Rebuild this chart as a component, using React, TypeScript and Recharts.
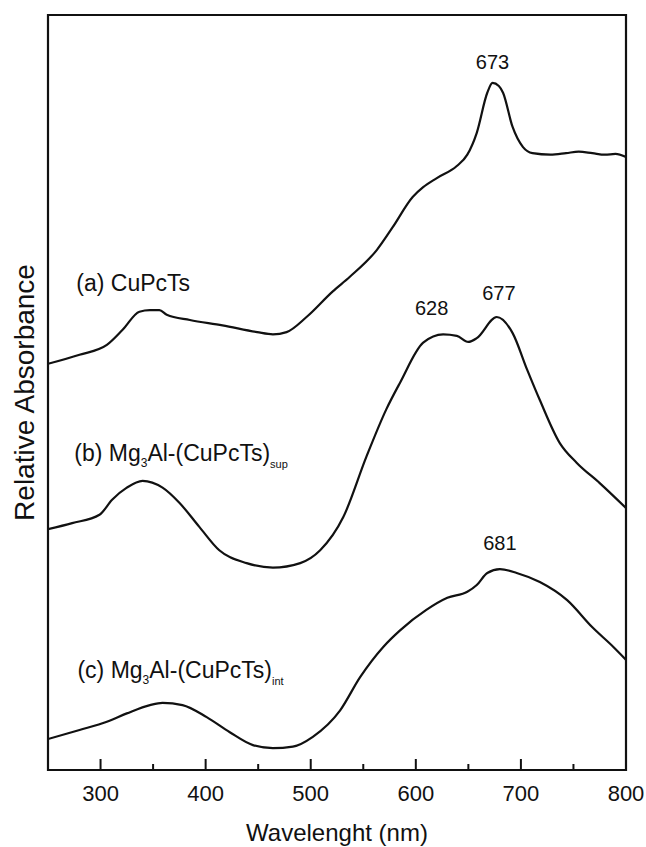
import {
  Label,
  Line,
  LineChart,
  ReferenceArea,
  ReferenceDot,
  XAxis,
  YAxis,
} from "recharts";

// wavelength (nm), relative absorbance (arbitrary units, 0..1 = bottom..top of frame)
const cuPcTs: [number, number][] = [
  [250, 0.538], [280, 0.55], [306, 0.563], [321, 0.583], [337, 0.607], [347, 0.609],
  [356, 0.609], [363, 0.603], [385, 0.596], [416, 0.589], [449, 0.58], [464, 0.577],
  [477, 0.58], [496, 0.6], [521, 0.634], [537, 0.653], [563, 0.689], [578, 0.719],
  [597, 0.759], [607, 0.772], [620, 0.784], [639, 0.8], [649, 0.815], [658, 0.844],
  [668, 0.897], [673, 0.91], [679, 0.906], [683, 0.897], [692, 0.852], [702, 0.825],
  [711, 0.817], [728, 0.815], [743, 0.817], [755, 0.819], [768, 0.817], [780, 0.815],
  [790, 0.816], [800, 0.812],
];

const mg3AlSup: [number, number][] = [
  [250, 0.319], [273, 0.327], [299, 0.338], [311, 0.358], [325, 0.374], [340, 0.383],
  [359, 0.374], [375, 0.354], [394, 0.322], [413, 0.291], [439, 0.274], [464, 0.268],
  [490, 0.274], [509, 0.291], [531, 0.335], [553, 0.415], [572, 0.478], [585, 0.513],
  [607, 0.566], [626, 0.577], [639, 0.575], [650, 0.567], [658, 0.572], [677, 0.6],
  [692, 0.579], [706, 0.53], [718, 0.49], [737, 0.433], [753, 0.407], [775, 0.38],
  [800, 0.347],
];

const mg3AlInt: [number, number][] = [
  [250, 0.041], [280, 0.053], [306, 0.064], [325, 0.075], [347, 0.086], [359, 0.089],
  [378, 0.086], [401, 0.07], [423, 0.05], [445, 0.033], [464, 0.029], [483, 0.031],
  [502, 0.044], [528, 0.079], [547, 0.123], [569, 0.163], [585, 0.185],
  [610, 0.212], [630, 0.228], [649, 0.236], [658, 0.245], [668, 0.261], [680, 0.266],
  [696, 0.261], [718, 0.249], [744, 0.225], [768, 0.189], [788, 0.163], [800, 0.146],
];

const majorTicks = [300, 400, 500, 600, 700, 800];
const minorTicks = [350, 450, 550, 650, 750];

const peakLabels = ["673", "628", "677", "681"];
const peakSpots: [number, number][] = [[673, 0.938], [615, 0.612], [679, 0.632], [680, 0.301]];

const curveTags = [
  { lead: "(a) CuPcTs", sub1: "", mid: "", sub2: "" },
  { lead: "(b) Mg", sub1: "3", mid: "Al-(CuPcTs)", sub2: "sup" },
  { lead: "(c) Mg", sub1: "3", mid: "Al-(CuPcTs)", sub2: "int" },
];
const tagSpots: [number, number][] = [[277, 0.645], [275, 0.42], [278, 0.132]];

const FONT = "'Liberation Sans', Arial, Helvetica, sans-serif";
const INK = "#111";

const toPoints = (s: [number, number][]) => s.map(([wl, abs]) => ({ wl, abs }));

function WavelengthTick(props: any) {
  const { x, y, payload } = props;
  const major = majorTicks.includes(payload.value);
  return (
    <g>
      <line x1={x} x2={x} y1={y} y2={y - (major ? 11 : 6)} stroke={INK} strokeWidth={2} />
      {major && (
        <text x={x} y={y + 31} textAnchor="middle" fontSize={22} fill={INK} fontFamily={FONT}>
          {payload.value}
        </text>
      )}
    </g>
  );
}

function CurveTag(props: any) {
  const { cx, cy, tag } = props;
  return (
    <text x={cx} y={cy} dy="0.35em" fontSize={23} fill={INK} fontFamily={FONT}>
      {tag.lead}
      {tag.sub1 && (
        <tspan fontSize={12} dy={6}>{tag.sub1}</tspan>
      )}
      {tag.mid && (
        <tspan fontSize={23} dy={-6}>{tag.mid}</tspan>
      )}
      {tag.sub2 && (
        <tspan fontSize={11} dy={7}>{tag.sub2}</tspan>
      )}
    </text>
  );
}

export default function App() {
  const ticks = [...majorTicks, ...minorTicks].sort((a, b) => a - b);
  return (
    <div style={{ position: "absolute", left: 0, top: 0, background: "#fff" }}>
      <LineChart width={646} height={847} margin={{ top: 15, right: 20, bottom: 0, left: 0 }}>
        <XAxis
          type="number"
          dataKey="wl"
          domain={[250, 800]}
          allowDataOverflow
          ticks={ticks}
          interval={0}
          tickSize={0}
          tickMargin={0}
          tickLine={false}
          axisLine={false}
          height={77}
          tick={(p: any) => <WavelengthTick {...p} />}
        >
          <Label
            value="Wavelenght (nm)"
            position="insideBottom"
            offset={6}
            fontSize={24}
            fill={INK}
            fontFamily={FONT}
          />
        </XAxis>
        <YAxis
          type="number"
          dataKey="abs"
          domain={[0, 1]}
          allowDataOverflow
          width={48}
          tick={false}
          tickLine={false}
          axisLine={false}
        >
          <Label
            value="Relative Absorbance"
            angle={-90}
            position="center"
            fontSize={28}
            fill={INK}
            fontFamily={FONT}
          />
        </YAxis>
        <ReferenceArea
          x1={250}
          x2={800}
          y1={0}
          y2={1}
          fill="none"
          stroke={INK}
          strokeWidth={2.2}
          ifOverflow="visible"
        />
        <Line data={toPoints(cuPcTs)} dataKey="abs" type="monotone" stroke={INK} strokeWidth={2.2} dot={false} isAnimationActive={false} />
        <Line data={toPoints(mg3AlSup)} dataKey="abs" type="monotone" stroke={INK} strokeWidth={2.2} dot={false} isAnimationActive={false} />
        <Line data={toPoints(mg3AlInt)} dataKey="abs" type="monotone" stroke={INK} strokeWidth={2.2} dot={false} isAnimationActive={false} />
        {peakSpots.map(([wl, abs], i) => (
          <ReferenceDot
            key={"p" + i}
            x={wl}
            y={abs}
            r={0}
            stroke="none"
            fill="none"
            ifOverflow="visible"
            label={{ value: peakLabels[i], position: "center", fontSize: 20, fill: INK, fontFamily: FONT }}
          />
        ))}
        {tagSpots.map(([wl, abs], i) => (
          <ReferenceDot
            key={"t" + i}
            x={wl}
            y={abs}
            r={0}
            ifOverflow="visible"
            shape={(p: any) => <CurveTag {...p} tag={curveTags[i]} />}
          />
        ))}
      </LineChart>
    </div>
  );
}
